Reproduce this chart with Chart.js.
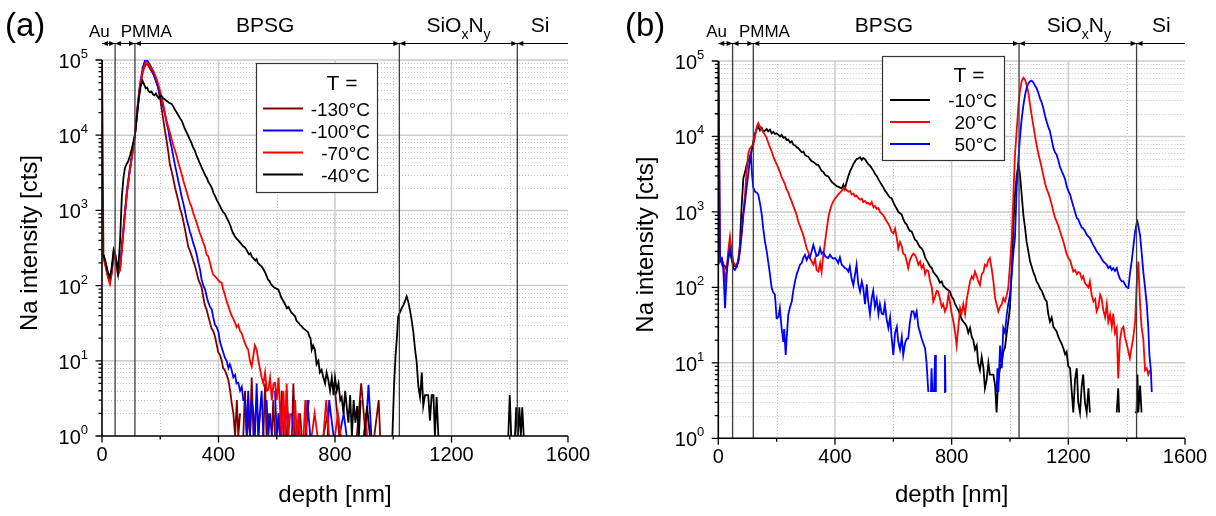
<!DOCTYPE html>
<html><head><meta charset="utf-8">
<script src="https://cdn.jsdelivr.net/npm/chart.js@4.4.0/dist/chart.umd.min.js"></script>
<style>
html,body{margin:0;padding:0;background:#fff;}
#wrap{position:relative;width:1216px;height:516px;overflow:hidden;}
canvas{position:absolute;top:0;}
</style></head><body>
<div id="wrap">
<canvas id="ca" width="608" height="516" style="left:0"></canvas>
<canvas id="cb" width="608" height="516" style="left:608px"></canvas>
</div>
<script>
// ---------------- tick values ----------------
const xMajorTicks = [0, 400, 800, 1200, 1600];
const xMinorTicks = [200, 600, 1000, 1400];
const yDecades = [1, 10, 100, 1000, 10000, 100000];
const yExponents = ['0', '1', '2', '3', '4', '5'];
const yMinorMult = [2, 3, 4, 5, 6, 7, 8, 9];
const layerNames = ['Au', 'PMMA', 'BPSG', 'SiOxNy', 'Si'];

// ---------------- panel (a) : layer boundaries [nm] ----------------
const layersA = [0, 45, 113, 1021, 1426];
const legendA = ['-130°C', '-100°C', '-70°C', '-40°C'];
// depth [nm], Na intensity [cts]
const a130 = [[0,150000],[5,250],[12,190],[20,135],[27,112],[33,150],[40,270],[47,230],[55,140],[62,165],[70,400],[78,900],[86,1900],[95,3500],[104,5800],[113,10000],[122,22000],[130,42000],[140,70000],[150,88000],[158,86000],[166,76000],[175,66000],[182,59000],[190,47000],[199,32000],[205,22000],[211,15500],[217,11000],[222,8400],[228,5800],[233,4100],[240,3200],[245,2600],[251,2000],[257,1600],[262,1350],[268,1050],[274,890],[280,700],[285,560],[291,420],[296,330],[302,290],[308,250],[313,215],[319,185],[325,150],[331,120],[336,108],[342,95],[348,70],[353,55],[359,48],[365,39],[370,33],[376,27],[382,25],[388,21],[393,17],[399,13],[405,12],[411,10],[416,8],[422,7.5],[428,6.5],[434,5.5],[440,4],[445,2.8],[451,2],[457,1],[463,3],[468,1],[474,2],[480,null],[485,1],[491,4],[497,1],[502,2],[508,1],[514,6],[520,1],[525,null],[531,3],[537,1],[542,2],[548,null],[554,1],[560,5],[565,1],[571,2],[577,null],[583,1],[588,3],[594,1],[600,null],[606,2],[611,1],[617,4],[623,1],[629,null],[634,1],[640,2],[646,null],[652,1],[657,5],[663,1],[669,null],[675,1],[680,2],[686,1],[692,null],[698,1],[710,3],[720,null],[730,1],[745,null],[760,1],[775,2],[790,null],[800,4],[815,1],[830,null],[845,1],[860,null],[875,1],[890,5],[905,1],[920,null],[935,1],[950,3],[955,1],[965,null],[980,1],[1000,null]];
const a100 = [[5,250],[12,200],[20,150],[27,118],[33,150],[40,275],[47,220],[55,150],[62,170],[70,380],[78,850],[86,1800],[95,3300],[104,5600],[113,10000],[122,24000],[130,46000],[140,80000],[148,100000],[155,99000],[162,90000],[170,79000],[180,60000],[186,51000],[193,43000],[199,35000],[205,29000],[211,23000],[216,19000],[222,14500],[228,11500],[233,8800],[239,6900],[245,5200],[250,4100],[256,3200],[262,2460],[268,1950],[273,1550],[279,1250],[285,980],[290,780],[296,640],[302,520],[308,440],[313,370],[319,317],[325,260],[331,200],[337,160],[342,120],[348,100],[354,89],[360,70],[365,60],[371,52],[377,48],[382,38],[388,30],[394,28],[400,24],[405,18],[411,15],[416,13],[422,11],[428,10],[434,8],[439,9],[445,7.6],[451,6],[457,6.5],[462,5],[468,5.1],[474,4],[480,4.5],[485,3],[491,3],[497,1],[502,4],[508,1],[514,3],[520,2],[525,1],[531,5],[537,1],[542,2],[548,4],[554,1],[560,null],[565,3],[571,1],[577,2],[583,1],[588,null],[594,4],[600,1],[606,2],[611,1],[617,3],[623,null],[629,1],[634,4],[640,1],[646,null],[652,2],[660,1],[670,null],[700,1],[705,3],[715,1],[730,null],[775,1],[780,3],[795,1],[805,null],[815,1],[830,2],[840,1],[850,null],[905,1],[915,4.8],[925,1],[935,null]];
const a70 = [[5,230],[12,180],[20,130],[27,105],[33,140],[40,260],[47,210],[55,140],[62,160],[70,350],[78,800],[86,1700],[95,3200],[104,5500],[113,9800],[122,23000],[130,44000],[140,72000],[150,95000],[158,90000],[166,82000],[176,72000],[183,62000],[190,52000],[198,41000],[205,32000],[211,25000],[217,19000],[222,15500],[228,12700],[234,10500],[240,8600],[245,7300],[251,6200],[257,5200],[262,4300],[268,3600],[274,3000],[279,2500],[285,2100],[291,1750],[296,1480],[302,1250],[308,1100],[313,930],[319,800],[325,690],[330,590],[336,500],[342,435],[347,380],[353,330],[359,260],[365,245],[371,200],[377,160],[382,140],[388,133],[394,125],[399,118],[405,112],[411,109],[416,90],[422,75],[428,62],[434,53],[440,45],[445,40],[451,36],[457,32],[462,28],[468,30],[474,25],[480,23],[485,20],[491,17],[497,15],[502,14],[508,10],[514,8.4],[520,12],[525,16],[531,14],[537,10],[542,8],[548,6],[554,5],[560,7],[566,4],[571,4.1],[577,6],[583,3],[589,5],[594,5.1],[600,3],[606,6],[612,2],[617,1],[623,4],[629,1],[634,5],[640,1],[646,2],[652,null],[657,1],[663,3],[669,1],[675,2],[680,1],[686,null],[692,1],[698,3],[703,1],[710,null],[720,1],[730,2],[740,1],[750,null],[760,1],[770,3],[780,1],[790,null],[800,1],[810,2],[820,1],[830,null],[900,1],[905,2],[910,1],[915,null]];
const a40 = [[5,260],[12,210],[20,150],[27,130],[33,170],[40,300],[47,250],[55,150],[62,390],[68,1500],[74,2800],[79,3700],[84,4100],[90,4500],[97,5500],[104,7000],[113,10000],[120,18000],[127,32000],[133,45000],[139,53000],[145,47000],[150,42000],[155,43000],[159,39000],[165,37000],[170,38000],[175,35000],[180,34000],[185,36000],[190,33000],[195,31000],[200,34000],[205,33000],[210,31000],[215,30000],[220,29000],[225,28000],[230,27000],[239,26000],[245,24000],[250,22000],[255,20500],[260,19000],[267,17000],[274,15500],[280,13500],[285,12000],[290,11000],[295,10000],[300,9000],[305,8300],[312,7000],[319,6200],[325,5300],[330,4800],[335,4300],[340,3900],[345,3500],[350,3200],[355,2900],[360,2700],[365,2400],[371,2200],[377,2000],[383,1700],[390,1500],[395,1350],[400,1250],[405,1150],[410,1050],[416,950],[422,900],[428,800],[434,720],[440,640],[445,560],[450,500],[455,460],[462,420],[470,390],[475,370],[480,350],[486,330],[491,320],[496,300],[500,280],[505,260],[510,270],[515,240],[520,230],[527,215],[531,225],[535,200],[541,190],[548,180],[554,165],[560,150],[565,135],[570,120],[575,115],[580,105],[585,100],[590,95],[597,92],[605,89],[610,80],[615,70],[620,65],[625,60],[630,55],[635,50],[640,52],[645,48],[650,44],[655,42],[660,40],[663,39],[668,34],[675,32],[680,30],[685,29],[691,27],[697,26],[702,25],[708,24],[712,21],[716,20],[720,14],[725,16],[731,14],[737,9],[743,10],[748,7],[754,7.6],[760,6],[766,5],[771,7],[777,5.6],[783,4],[789,6],[795,3.5],[800,6],[806,4],[812,5],[818,3],[823,3.3],[829,2],[835,4],[840,2.5],[846,1.5],[852,3.5],[858,1],[864,3],[870,1.5],[876,2.5],[882,1],[888,3],[894,null],[900,1],[910,2.5],[920,1],[930,null],[997,1],[1003,5],[1008,12],[1012,19],[1017,39],[1023,44],[1029,50],[1035,55],[1040,62],[1046,72],[1052,60],[1057,48],[1063,35],[1069,24],[1075,14],[1080,10],[1086,4.6],[1092,3.3],[1098,7],[1103,2.5],[1109,3.5],[1115,3.5],[1120,3.5],[1126,1.6],[1132,3.5],[1138,3.5],[1143,1],[1149,3.3],[1155,1],[1160,null],[1395,1],[1400,3.5],[1405,1],[1412,null],[1418,1],[1422,2.4],[1428,1],[1433,2.4],[1438,1],[1443,2.4],[1448,1],[1452,null]];

// ---------------- panel (b) ----------------
const layersB = [0, 49, 120, 1031, 1434];
const legendB = ['-10°C', '20°C', '50°C'];
const b10 = [[6,220],[12,240],[17,200],[23,190],[29,170],[34,230],[37,300],[43,260],[51,200],[57,190],[63,190],[69,240],[74,365],[80,1200],[86,2800],[92,3400],[97,4200],[103,4800],[108,5400],[114,6300],[120,8500],[126,11000],[132,12500],[137,13500],[143,12000],[149,13000],[154,11500],[160,12000],[166,12500],[171,11700],[177,12300],[183,11000],[189,11500],[194,10800],[200,11000],[206,10500],[212,10000],[217,10500],[223,9600],[229,9800],[234,9000],[240,9100],[246,8300],[252,8600],[257,7800],[263,7600],[269,7200],[274,7000],[280,6600],[286,6200],[292,6300],[297,5700],[303,5500],[309,5400],[314,5000],[320,4700],[326,4600],[332,4400],[337,4200],[343,4200],[349,3800],[354,3500],[360,3400],[366,3100],[372,3000],[377,2950],[383,2700],[389,2500],[394,2400],[400,2300],[406,2200],[411,2170],[417,2100],[423,2050],[429,2300],[434,2000],[440,2500],[446,3000],[452,3500],[457,3800],[463,4300],[469,4700],[474,5000],[480,5100],[486,5300],[492,4900],[497,5200],[503,5000],[509,4600],[514,4300],[520,4100],[526,3800],[532,3500],[537,3200],[543,3000],[549,2700],[554,2500],[560,2300],[566,2100],[572,1900],[577,1800],[583,1650],[589,1550],[594,1520],[600,1350],[606,1200],[612,1100],[617,1000],[623,960],[629,920],[634,800],[640,720],[646,680],[652,600],[657,560],[663,550],[669,480],[674,430],[680,410],[686,370],[692,340],[697,330],[703,300],[709,250],[714,230],[720,210],[726,190],[732,180],[737,160],[743,150],[749,140],[754,130],[760,115],[766,120],[771,105],[777,100],[783,95],[789,92],[794,88],[800,75],[806,70],[812,60],[817,55],[823,50],[829,43],[834,38],[840,35],[846,33],[852,30],[857,25],[863,29],[869,22],[874,20],[880,15],[886,17],[891,10],[897,8],[903,12],[909,8.5],[914,4.6],[920,6],[926,10],[931,7],[937,7],[943,7],[949,5],[954,2.2],[960,6],[966,8.5],[972,10],[977,14],[983,16],[989,25],[994,35],[1000,54],[1006,180],[1012,700],[1017,1700],[1023,3000],[1029,4200],[1034,3200],[1040,1700],[1046,900],[1052,600],[1057,400],[1063,300],[1069,220],[1074,190],[1080,160],[1086,140],[1091,120],[1097,110],[1103,97],[1109,90],[1114,80],[1120,70],[1126,65],[1131,45],[1137,35],[1143,40],[1149,30],[1154,28],[1160,26],[1166,22],[1171,20],[1177,18],[1183,15.6],[1189,13],[1194,14],[1200,9],[1206,8.5],[1212,4],[1217,2.2],[1223,6],[1229,8.5],[1234,3],[1240,2.2],[1246,5],[1251,7],[1257,3],[1263,2.2],[1269,4.6],[1274,2.2],[1280,null],[1366,2.2],[1371,4.6],[1374,2.2],[1377,null],[1428,2.2],[1434,2.2],[1437,7],[1440,2.2],[1446,5],[1451,2.2],[1455,null]];
const b20 = [[0,200000],[6,270],[12,200],[17,210],[23,120],[29,180],[34,300],[40,470],[46,300],[51,220],[57,200],[63,190],[69,230],[74,330],[80,550],[86,1000],[92,1800],[97,3450],[103,6000],[109,7000],[114,7400],[120,7700],[126,10000],[132,13500],[137,15000],[143,13500],[149,12500],[154,11500],[160,10500],[166,9500],[171,8300],[177,7200],[183,6300],[189,5400],[194,4800],[200,4300],[206,3800],[212,3300],[217,2900],[223,2600],[229,2300],[234,2000],[240,1800],[246,1550],[252,1370],[257,1200],[263,1050],[269,900],[274,745],[280,650],[286,560],[292,480],[297,405],[303,330],[309,290],[314,250],[320,220],[326,200],[332,240],[337,170],[343,162],[349,210],[354,160],[360,270],[366,400],[372,600],[377,830],[383,1050],[389,1250],[394,1370],[400,1500],[406,1600],[411,1700],[417,1800],[423,1900],[429,2000],[434,2080],[440,1950],[446,1850],[452,1900],[457,1700],[463,1750],[469,1600],[474,1650],[480,1520],[486,1450],[492,1500],[497,1350],[503,1400],[509,1300],[514,1310],[520,1250],[526,1350],[532,1150],[537,1200],[543,1100],[549,1120],[554,1000],[560,950],[566,900],[571,830],[577,750],[583,700],[589,620],[594,550],[600,520],[606,600],[612,450],[617,330],[623,400],[629,350],[634,280],[640,270],[646,220],[651,180],[657,230],[663,260],[669,280],[674,270],[680,240],[686,200],[692,220],[697,180],[703,200],[709,150],[714,170],[720,165],[726,120],[732,100],[737,65],[743,75],[749,90],[754,88],[760,70],[766,55],[771,60],[777,48],[783,55],[789,80],[794,65],[800,45],[806,35],[812,25],[817,17],[823,30],[829,53],[834,45],[840,60],[846,44],[852,70],[857,90],[863,120],[869,140],[874,130],[880,162],[886,140],[891,120],[897,107],[903,150],[909,160],[914,200],[920,190],[926,230],[931,245],[937,180],[943,120],[949,72],[954,60],[960,48],[966,55],[972,60],[977,72],[983,65],[989,80],[994,98],[1000,200],[1006,450],[1012,1800],[1017,5700],[1023,12000],[1029,26000],[1034,40000],[1040,54000],[1046,60000],[1052,56000],[1057,48000],[1063,38000],[1069,26000],[1074,19500],[1080,14000],[1086,10000],[1091,7800],[1097,6000],[1103,4800],[1109,3800],[1114,3100],[1120,2400],[1126,2000],[1131,1800],[1137,1520],[1143,1250],[1149,1000],[1154,850],[1160,745],[1166,650],[1171,560],[1177,480],[1183,405],[1189,330],[1194,280],[1200,245],[1206,230],[1212,190],[1217,162],[1223,170],[1229,150],[1234,160],[1240,155],[1246,130],[1251,140],[1257,115],[1263,107],[1269,100],[1274,120],[1280,80],[1286,65],[1292,70],[1297,48],[1303,55],[1309,80],[1314,72],[1320,50],[1326,40],[1332,60],[1337,35],[1343,44],[1349,30],[1354,45],[1360,25],[1366,29],[1371,6.2],[1377,20],[1383,28],[1389,30],[1394,22],[1400,18],[1406,14],[1411,11.5],[1417,16],[1423,22],[1429,35],[1434,100],[1440,220],[1446,59],[1451,30],[1457,21],[1463,8],[1469,8.5],[1474,7],[1480,8]];
const b50 = [[0,200000],[6,220],[12,240],[17,180],[23,53],[29,150],[32,220],[40,330],[46,250],[51,180],[57,170],[63,190],[69,220],[74,295],[80,500],[86,920],[92,1400],[97,2080],[103,3200],[106,4200],[112,5700],[116,3000],[120,2100],[126,1860],[132,1800],[137,1700],[143,1300],[149,920],[154,600],[160,405],[166,300],[171,220],[177,150],[183,98],[189,85],[194,80],[200,39],[206,40],[211,53],[217,29],[223,19],[226,28],[231,12.7],[234,20],[240,44],[246,55],[252,65],[257,90],[263,120],[269,150],[274,170],[280,200],[286,210],[292,250],[297,270],[303,230],[309,260],[314,245],[320,300],[326,365],[332,300],[337,260],[343,270],[349,330],[354,280],[360,295],[366,260],[372,250],[377,245],[383,270],[389,250],[394,240],[400,245],[406,230],[411,210],[417,250],[423,200],[429,190],[434,180],[440,175],[446,162],[451,190],[457,130],[463,107],[469,150],[474,200],[480,110],[486,88],[492,120],[497,98],[503,60],[509,110],[514,65],[520,44],[526,72],[531,90],[537,55],[543,70],[549,44],[554,60],[560,45],[566,44],[571,60],[577,38],[583,29],[589,40],[594,22],[600,12.7],[606,25],[612,30],[617,19],[623,15],[629,22],[634,12.7],[640,18],[646,21],[651,21],[657,35],[663,48],[669,48],[674,40],[680,48],[686,30],[692,25],[697,21],[703,18],[709,15.5],[714,10],[720,4.1],[726,null],[729,4.1],[731,8.5],[734,4.1],[737,null],[740,4.1],[743,12.7],[746,4.1],[749,null],[774,4.1],[777,12.7],[779,4.1],[782,null],[954,4.1],[957,8.5],[960,4.1],[966,17],[972,8.5],[977,29],[983,25],[989,44],[994,60],[1000,80],[1006,150],[1012,300],[1017,450],[1023,2080],[1029,5000],[1034,9500],[1040,17000],[1046,26000],[1052,36000],[1057,44000],[1063,50000],[1069,54000],[1074,55000],[1080,52000],[1086,47000],[1091,44000],[1097,38000],[1103,32000],[1109,28000],[1114,24000],[1120,19000],[1126,15500],[1131,13500],[1137,11700],[1143,9000],[1149,7000],[1154,6200],[1160,5700],[1166,4800],[1171,4000],[1177,3500],[1183,3100],[1189,2700],[1194,2200],[1200,1900],[1206,1700],[1212,1400],[1217,1200],[1223,1000],[1229,830],[1234,800],[1240,700],[1246,620],[1251,610],[1257,560],[1263,500],[1269,470],[1274,450],[1280,400],[1286,360],[1292,330],[1297,300],[1303,280],[1309,260],[1314,240],[1320,220],[1326,210],[1332,200],[1337,180],[1343,190],[1349,170],[1354,180],[1360,165],[1366,180],[1371,150],[1377,130],[1383,120],[1389,120],[1394,110],[1400,100],[1406,98],[1411,150],[1417,220],[1423,350],[1429,550],[1434,700],[1437,745],[1440,650],[1446,490],[1451,300],[1457,162],[1463,100],[1469,59],[1474,30],[1478,12.7],[1483,8],[1486,4.1]];

// ---------------- drawing ----------------
const FONT = '"Liberation Sans", Arial, Helvetica, sans-serif';
Chart.defaults.font.family = FONT;
const toPts = arr => arr.map(([x, y]) => ({x, y}));

function line(ctx, x1, y1, x2, y2) { ctx.moveTo(x1, y1); ctx.lineTo(x2, y2); }

function arrowHead(ctx, tipX, yy, dir) {
  ctx.beginPath();
  ctx.moveTo(tipX, yy);
  ctx.lineTo(tipX - dir * 6, yy - 2.6);
  ctx.lineTo(tipX - dir * 6, yy + 2.6);
  ctx.closePath();
  ctx.fill();
}

function drawLayerName(ctx, name, cx, small) {
  ctx.fillStyle = '#000';
  ctx.textBaseline = 'alphabetic';
  ctx.textAlign = 'left';
  if (name === 'SiOxNy') {
    const big = '21px ' + FONT, sub = '14px ' + FONT;
    ctx.font = big; const w1 = ctx.measureText('SiO').width, w3 = ctx.measureText('N').width;
    ctx.font = sub; const w2 = ctx.measureText('x').width, w4 = ctx.measureText('y').width;
    let x0 = cx - (w1 + w2 + w3 + w4) / 2;
    ctx.font = big; ctx.fillText('SiO', x0, 32); x0 += w1;
    ctx.font = sub; ctx.fillText('x', x0, 39); x0 += w2;
    ctx.font = big; ctx.fillText('N', x0, 32); x0 += w3;
    ctx.font = sub; ctx.fillText('y', x0, 39);
  } else {
    ctx.font = (small ? '17px ' : '21px ') + FONT;
    ctx.textAlign = 'center';
    ctx.fillText(name, cx, small ? 37 : 32);
  }
}

function decor(p) {
  return {
    id: 'decor' + p.letter,
    beforeDatasetsDraw(chart) {
      const {ctx, chartArea: a} = chart;
      const xs = chart.scales.x, ys = chart.scales.y;
      ctx.save();
      ctx.lineWidth = 1; ctx.strokeStyle = '#c4c4c4'; ctx.setLineDash([1, 2]);
      ctx.beginPath();
      for (const v of xMinorTicks) { const px = Math.round(xs.getPixelForValue(v)) + 0.5; line(ctx, px, a.top, px, a.bottom); }
      for (let i = 0; i < yDecades.length - 1; i++) for (const m of yMinorMult) {
        const py = Math.round(ys.getPixelForValue(yDecades[i] * m)) + 0.5; line(ctx, a.left, py, a.right, py);
      }
      ctx.stroke();
      ctx.setLineDash([]); ctx.strokeStyle = '#cccccc'; ctx.lineWidth = 1.5;
      ctx.beginPath();
      for (const v of xMajorTicks) if (v > 0 && v < 1600) { const px = xs.getPixelForValue(v); line(ctx, px, a.top, px, a.bottom); }
      for (const d of yDecades) if (d > 1) { const py = ys.getPixelForValue(d); line(ctx, a.left, py, a.right, py); }
      ctx.stroke();
      ctx.restore();
    },
    afterDatasetsDraw(chart) {
      const {ctx, chartArea: a} = chart;
      const xs = chart.scales.x, ys = chart.scales.y;
      ctx.save();
      const topY = 43.5;
      ctx.strokeStyle = '#3c3c3c'; ctx.lineWidth = 1.3;
      ctx.beginPath();
      for (let i = 1; i < p.layers.length; i++) { const px = xs.getPixelForValue(p.layers[i]); line(ctx, px, topY, px, a.bottom); }
      ctx.stroke();
      ctx.strokeStyle = '#000'; ctx.lineWidth = 1.2;
      ctx.beginPath(); line(ctx, xs.getPixelForValue(0), topY, a.right, topY); ctx.stroke();
      ctx.fillStyle = '#000';
      for (let i = 0; i < p.layers.length; i++) {
        const l = xs.getPixelForValue(p.layers[i]);
        arrowHead(ctx, l, topY, -1);
        if (i + 1 < p.layers.length) arrowHead(ctx, xs.getPixelForValue(p.layers[i + 1]), topY, 1);
      }
      layerNames.forEach((n, i) => drawLayerName(ctx, n, xs.getPixelForValue(p.labelAt[i]), i < 2));

      // axes
      ctx.strokeStyle = '#000'; ctx.lineWidth = 1.6;
      ctx.beginPath();
      line(ctx, a.left, a.top, a.left, a.bottom + 0.8);
      line(ctx, a.left - 0.8, a.bottom, a.right, a.bottom);
      ctx.stroke();
      ctx.lineWidth = 1.3;
      ctx.beginPath();
      for (const v of xMajorTicks) { const px = xs.getPixelForValue(v); line(ctx, px, a.bottom, px, a.bottom + 6.5); }
      for (const v of xMinorTicks) { const px = xs.getPixelForValue(v); line(ctx, px, a.bottom, px, a.bottom + 3.5); }
      for (let i = 0; i < yDecades.length; i++) {
        const py = ys.getPixelForValue(yDecades[i]); line(ctx, a.left - 6.5, py, a.left, py);
        if (i < yDecades.length - 1) for (const m of yMinorMult) {
          const pm = ys.getPixelForValue(yDecades[i] * m); line(ctx, a.left - 3.5, pm, a.left, pm);
        }
      }
      ctx.stroke();
      // tick labels
      ctx.fillStyle = '#000';
      ctx.font = '20px ' + FONT; ctx.textAlign = 'center'; ctx.textBaseline = 'alphabetic';
      for (const v of xMajorTicks) ctx.fillText(String(v), xs.getPixelForValue(v), a.bottom + 25);
      for (let i = 0; i < yDecades.length; i++) {
        const py = ys.getPixelForValue(yDecades[i]);
        ctx.font = '13px ' + FONT;
        const ws = ctx.measureText(yExponents[i]).width;
        const right = a.left - 14;
        ctx.textAlign = 'right';
        ctx.fillText(yExponents[i], right, py - 2);
        ctx.font = '20px ' + FONT;
        ctx.fillText('10', right - ws, py + 8);
      }
      // axis titles
      ctx.font = '24px ' + FONT; ctx.textAlign = 'center';
      ctx.fillText('depth [nm]', (a.left + a.right) / 2, 502);
      ctx.save();
      ctx.translate(p.yTitleX, (a.top + a.bottom) / 2 - 5);
      ctx.rotate(-Math.PI / 2);
      ctx.textBaseline = 'middle';
      ctx.fillText('Na intensity [cts]', 0, 0);
      ctx.restore();
      // panel letter
      ctx.font = '33px ' + FONT; ctx.textAlign = 'left'; ctx.textBaseline = 'alphabetic';
      ctx.fillText('(' + p.letter + ')', p.letterX, 36);
      // legend
      const L = p.legend;
      ctx.fillStyle = '#fff'; ctx.fillRect(L.x, L.y, L.w, L.h);
      ctx.strokeStyle = '#333'; ctx.lineWidth = 1.2; ctx.strokeRect(L.x + 0.5, L.y + 0.5, L.w, L.h);
      ctx.fillStyle = '#000'; ctx.font = '21px ' + FONT; ctx.textAlign = 'center';
      ctx.fillText('T =', L.titleX, L.titleY);
      ctx.font = '19px ' + FONT; ctx.textAlign = 'right';
      p.legendItems.forEach((it, i) => {
        const yy = L.firstY + i * L.step;
        ctx.strokeStyle = it.color; ctx.lineWidth = 2;
        ctx.beginPath(); line(ctx, L.lineX1, yy, L.lineX2, yy); ctx.stroke();
        ctx.fillStyle = '#000';
        ctx.fillText(it.label, L.textRight, yy + 7);
      });
      ctx.restore();
    }
  };
}

function makeChart(id, area, datasets, p) {
  const cv = document.getElementById(id);
  return new Chart(cv, {
    type: 'line',
    data: {datasets},
    options: {
      responsive: false, animation: false, devicePixelRatio: 1,
      layout: {padding: {left: area.left, right: 608 - area.right, top: area.top, bottom: 516 - area.bottom}},
      plugins: {legend: {display: false}, tooltip: {enabled: false}},
      scales: {
        x: {type: 'linear', min: 0, max: 1600, display: false},
        y: {type: 'logarithmic', min: 1, max: 100000, display: false}
      },
      elements: {point: {radius: 0}, line: {tension: 0}}
    },
    plugins: [decor(p)]
  });
}

function ds(arr, color) {
  return {data: toPts(arr), borderColor: color, borderWidth: 1.8, pointRadius: 0, spanGaps: false,
          clip: {left: 0, top: 0, right: 0, bottom: 1}};
}

const cBlack = '#000000', cRed = '#ff0000', cBlue = '#0000ff', cWine = '#800000';

makeChart('ca', {left: 102, right: 568, top: 60, bottom: 436},
  [ds(a40, cBlack), ds(a70, cRed), ds(a100, cBlue), ds(a130, cWine)],
  {letter: 'a', letterX: 5, yTitleX: 30, layers: layersA, labelAt: [-9, 152, 560, 1224, 1504],
   legend: {x: 256, y: 63, w: 121, h: 129, titleX: 342, titleY: 90, firstY: 108.5, step: 22, lineX1: 263, lineX2: 303, textRight: 370},
   legendItems: [{label: legendA[0], color: cWine}, {label: legendA[1], color: cBlue}, {label: legendA[2], color: cRed}, {label: legendA[3], color: cBlack}]});

makeChart('cb', {left: 110.3, right: 577, top: 61, bottom: 438.3},
  [ds(b50, cBlue), ds(b20, cRed), ds(b10, cBlack)],
  {letter: 'b', letterX: 17, yTitleX: 38, layers: layersB, labelAt: [-6, 158, 568, 1236, 1519],
   legend: {x: 274, y: 56, w: 122, h: 104, titleX: 361, titleY: 82, firstY: 100, step: 22, lineX1: 282, lineX2: 322, textRight: 389},
   legendItems: [{label: legendB[0], color: cBlack}, {label: legendB[1], color: cRed}, {label: legendB[2], color: cBlue}]});
</script>
</body></html>
